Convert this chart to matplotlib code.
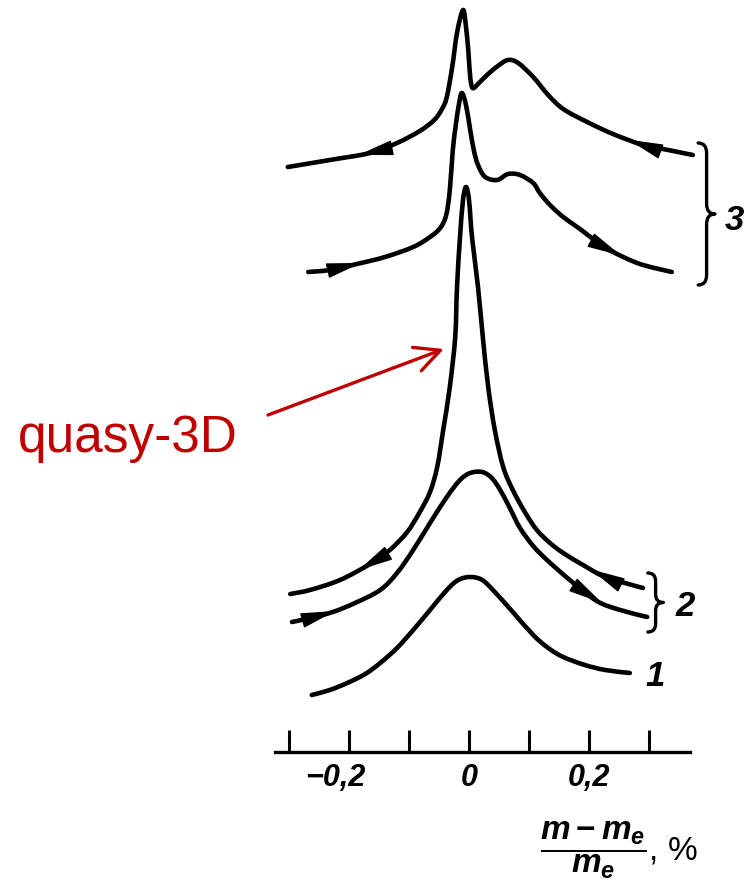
import matplotlib
matplotlib.use('Agg')
import matplotlib.pyplot as plt
import matplotlib.transforms as mtransforms
from matplotlib.path import Path
from matplotlib.patches import PathPatch
import numpy as np

plt.rcParams['font.family'] = ['Liberation Sans', 'DejaVu Sans']
plt.rcParams['mathtext.fontset'] = 'custom'
plt.rcParams['mathtext.it'] = 'Liberation Sans:italic:bold'
plt.rcParams['mathtext.rm'] = 'Liberation Sans:bold'

# relative mass deviation (%) and signal (arb. units) for each trace
c1_x = [-0.262, -0.232, -0.203, -0.173, -0.148, -0.120, -0.093, -0.065, -0.037, -0.018,
        0.002, 0.022, 0.043, 0.073, 0.107, 0.132, 0.157, 0.193, 0.227, 0.268]
c1_y = [57, 62, 69, 78, 89, 104, 122, 142, 162, 172,
        175, 172, 160, 140, 117, 104, 95, 87, 82, 79]

# curve 2, forward sweep
c2f_x = [-0.295, -0.265, -0.227, -0.190, -0.148, -0.120, -0.093, -0.065, -0.037, -0.015, 0.002,
         0.022, 0.038, 0.052, 0.068, 0.085, 0.107, 0.130, 0.168, 0.213, 0.252, 0.297]
c2f_y = [130, 134, 140, 149, 162, 179, 202, 229, 255, 272, 279,
         280, 274, 262, 244, 224, 206, 192, 172, 151, 142, 135]

# curve 2, backward sweep (quasi-3D spike)
c2b_x = [-0.298, -0.265, -0.215, -0.165, -0.132, -0.103, -0.082, -0.065, -0.053, -0.043, -0.032,
         -0.023, -0.020, -0.015, -0.010, -0.005, 0.000, 0.005, 0.015, 0.023, 0.032, 0.043,
         0.057, 0.073, 0.093, 0.113, 0.135, 0.157, 0.190, 0.223, 0.260, 0.290]
c2b_y = [158, 162, 172, 188, 202, 220, 240, 260, 285, 322, 365,
         415, 465, 515, 552, 565, 552, 515, 465, 415, 365, 322,
         285, 262, 240, 222, 209, 199, 187, 176, 169, 164]

# curve 3, backward sweep
c3b_x = [-0.302, -0.232, -0.165, -0.120, -0.082, -0.058, -0.045, -0.037, -0.028, -0.020, -0.010,
         -0.005, -0.001, 0.002, 0.006, 0.015, 0.030, 0.048, 0.065, 0.082, 0.107, 0.132,
         0.157, 0.197, 0.240, 0.290, 0.332, 0.373]
c3b_y = [585, 592, 599, 609, 621, 632, 643, 655, 685, 719, 742,
         725, 700, 675, 664, 668, 677, 686, 692, 689, 675, 657,
         643, 630, 618, 607, 602, 597]

# curve 3, forward sweep
c3f_x = [-0.268, -0.232, -0.187, -0.140, -0.093, -0.065, -0.048, -0.038, -0.032, -0.027,
         -0.022, -0.017, -0.012, -0.005, 0.002, 0.008, 0.015, 0.027, 0.047, 0.065, 0.085,
         0.107, 0.118, 0.135, 0.157, 0.185, 0.218, 0.240, 0.285, 0.338]
c3f_y = [480, 482, 488, 495, 505, 515, 524, 537, 562, 602,
         627, 647, 659, 647, 622, 602, 587, 575, 572, 578, 577,
         569, 559, 547, 535, 523, 508, 500, 488, 480]

tick_pos = [-0.3, -0.2, -0.1, 0.0, 0.1, 0.2, 0.3]
tick_lbl = ['', '\u22120,2', '', '0', '', '0,2', '']

fig = plt.figure(figsize=(7.54, 8.90), dpi=100)
ax = fig.add_axes([0, 0, 1, 1])
ax.set_xlim(-0.7817, 0.4750)
ax.set_ylim(-138, 752)


def smooth_trace(xs, ys):
    # pass a Catmull-Rom bezier through the read points so the trace is drawn rounded
    p = np.column_stack([xs, ys]).astype(float)
    ext = np.vstack([p[0], p, p[-1]])
    verts = [tuple(p[0])]
    codes = [Path.MOVETO]
    for i in range(1, len(ext) - 2):
        p0, p1, p2, p3 = ext[i - 1], ext[i], ext[i + 1], ext[i + 2]
        verts += [tuple(p1 + (p2 - p0) / 6), tuple(p2 - (p3 - p1) / 6), tuple(p2)]
        codes += [Path.CURVE4] * 3
    ax.add_patch(PathPatch(Path(verts, codes), fill=False, lw=3.3, color='black',
                           capstyle='round', joinstyle='round'))


curves = [(c1_x, c1_y), (c2f_x, c2f_y), (c2b_x, c2b_y), (c3b_x, c3b_y), (c3f_x, c3f_y)]
for xs, ys in curves:
    smooth_trace(xs, ys)


def sweep_arrow(xs, ys, x0, direction):
    # small filled arrowhead sitting on the curve, pointing along the sweep
    dx = 0.012 * direction
    y1 = np.interp(x0 + dx, xs, ys)
    ax.annotate('', xy=(x0 + dx, y1), xytext=(x0 - dx, np.interp(x0 - dx, xs, ys)),
                arrowprops=dict(arrowstyle='-|>,head_length=1.1,head_width=0.24',
                                mutation_scale=20, color='black', lw=1,
                                shrinkA=0, shrinkB=0))


sweep_arrow(c3b_x, c3b_y, -0.172, -1)
sweep_arrow(c3b_x, c3b_y, 0.278, -1)
sweep_arrow(c3f_x, c3f_y, -0.192, 1)
sweep_arrow(c3f_x, c3f_y, 0.242, 1)
sweep_arrow(c2b_x, c2b_y, -0.172, -1)
sweep_arrow(c2b_x, c2b_y, 0.215, -1)
sweep_arrow(c2f_x, c2f_y, -0.235, 1)
sweep_arrow(c2f_x, c2f_y, 0.210, 1)


def brace(xb, y_top, y_bot, a, r):
    ym = 0.5 * (y_top + y_bot)
    verts = [(xb - a, y_top), (xb, y_top), (xb, y_top - r),
             (xb, ym + r), (xb, ym), (xb + a, ym),
             (xb, ym), (xb, ym - r),
             (xb, y_bot + r), (xb, y_bot), (xb - a, y_bot)]
    codes = [Path.MOVETO, Path.CURVE3, Path.CURVE3,
             Path.LINETO, Path.CURVE3, Path.CURVE3,
             Path.CURVE3, Path.CURVE3,
             Path.LINETO, Path.CURVE3, Path.CURVE3]
    ax.add_patch(PathPatch(Path(verts, codes), fill=False, lw=2.4, color='black',
                           capstyle='round', joinstyle='round'))


brace(0.396, 609, 467, 0.014, 10)
brace(0.311, 179, 120, 0.013, 8)

lbl_kw = dict(fontsize=25, fontstyle='italic', fontweight='bold', ha='center', va='center')
ax.text(0.443, 532, '3', **lbl_kw)
ax.text(0.360, 146, '2', **lbl_kw)
ax.text(0.310, 76, '1', **lbl_kw)

# quasi-3D annotation
ax.annotate('', xy=(-0.042, 403), xytext=(-0.335, 337),
            arrowprops=dict(arrowstyle='->,head_length=0.9,head_width=0.45',
                            mutation_scale=20, color='#c00000', lw=2.4,
                            shrinkA=0, shrinkB=0))
ax.text(-0.568, 300, 'quasy-3D', color='#c00000', fontsize=37,
        ha='center', va='baseline')

# mass axis
for side in ['left', 'right', 'top']:
    ax.spines[side].set_visible(False)
ax.spines['bottom'].set_position(('data', 0))
ax.spines['bottom'].set_bounds(-0.323, 0.368)
ax.spines['bottom'].set_linewidth(2.4)
ax.set_yticks([])
ax.set_xticks(tick_pos)
ax.set_xticklabels(tick_lbl)
ax.tick_params(axis='x', direction='in', length=16, width=2.2, pad=8, labelsize=22)
for t in ax.get_xticklabels():
    t.set_fontstyle('italic')
    t.set_fontweight('bold')
# let the minus sign hang left of the tick
neg = ax.get_xticklabels()[1]
neg.set_transform(neg.get_transform() +
                  mtransforms.ScaledTranslation(-10 / 72, 0, fig.dpi_scale_trans))

ax.text(0.118, -98, r'$\dfrac{m-m_e}{m_e}$, %', fontsize=24, ha='left', va='center')

fig.savefig('out.png', dpi=100)
